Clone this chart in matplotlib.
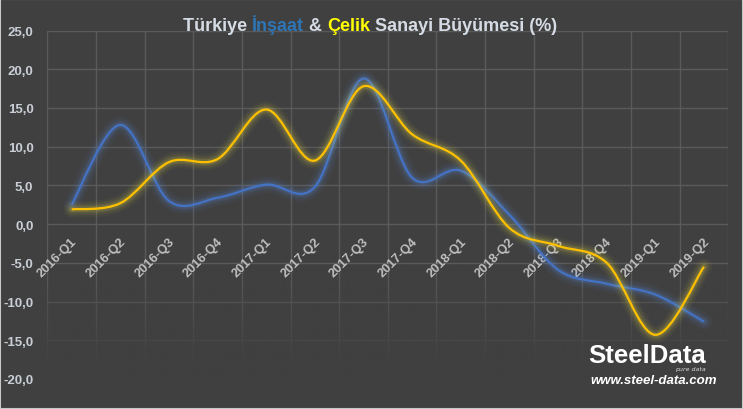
import numpy as np
import matplotlib.pyplot as plt
from matplotlib.path import Path
from matplotlib.patches import PathPatch, Rectangle
from matplotlib.transforms import IdentityTransform

# quarterly growth (%)
quarters = ["2016-Q1", "2016-Q2", "2016-Q3", "2016-Q4",
            "2017-Q1", "2017-Q2", "2017-Q3", "2017-Q4",
            "2018-Q1", "2018-Q2", "2018-Q3", "2018-Q4",
            "2019-Q1", "2019-Q2"]
insaat = [2.5, 12.8, 3.0, 3.4, 5.1, 4.8, 18.8, 6.0, 6.9, 1.2, -5.9, -7.7, -9.1, -12.6]
celik = [1.9, 2.7, 8.0, 8.4, 14.8, 8.2, 17.8, 11.6, 8.2, -0.5, -2.8, -5.0, -14.3, -5.5]
yticks = [25, 20, 15, 10, 5, 0, -5, -10, -15, -20]
ytick_labels = ["25,0", "20,0", "15,0", "10,0", "5,0", "0,0", "-5,0", "-10,0", "-15,0", "-20,0"]

BG = "#404040"
GRID = "#5a5a5a"
BLUE = "#4472c4"
GOLD = "#ffc000"
FONT = "Liberation Sans"


# Excel-style smoothed line: cubic bezier through every point
def smooth_path(vals):
    y = np.asarray(vals, float)
    x = np.arange(len(y), dtype=float)
    n = len(y)
    verts = [(x[0], y[0])]
    codes = [Path.MOVETO]
    for i in range(n - 1):
        a = max(i - 1, 0)
        b = min(i + 2, n - 1)
        c1 = (x[i] + (x[i + 1] - x[a]) / 6, y[i] + (y[i + 1] - y[a]) / 6)
        c2 = (x[i + 1] - (x[b] - x[i]) / 6, y[i + 1] - (y[b] - y[i]) / 6)
        verts += [c1, c2, (x[i + 1], y[i + 1])]
        codes += [Path.CURVE4] * 3
    return Path(verts, codes)


def glow_line(ax, vals, color, glow, z):
    p = smooth_path(vals)
    for lw, a in [(12, 0.04), (9, 0.06), (6, 0.09), (4, 0.12)]:
        ax.add_patch(PathPatch(p, fill=False, ec=glow, lw=lw, alpha=a,
                               capstyle="round", joinstyle="round", zorder=z))
    ax.add_patch(PathPatch(p, fill=False, ec=color, lw=1.6, zorder=z + 0.5))


fig = plt.figure(figsize=(7.43, 4.10), dpi=100, facecolor=BG)
ax = fig.add_axes([47.3 / 743, 1 - 380 / 410, 681 / 743, 348.5 / 410])
ax.set_facecolor(BG)
n = len(quarters)
for s in ax.spines.values():
    s.set_visible(False)

# grid
for v in yticks:
    ax.axhline(v, color=GRID, lw=1, zorder=1)
for i in range(n + 1):
    ax.axvline(i - 0.5, color=GRID, lw=1, zorder=1)
# grid fades out towards the bottom
grad = np.zeros((100, 1, 4))
grad[..., :3] = np.array([0x40, 0x40, 0x40]) / 255
grad[:, 0, 3] = np.clip(np.linspace(1.15, -0.1, 100), 0, 1)
ax.imshow(grad, extent=(-0.6, n - 0.4, -20.5, -4), aspect="auto",
          origin="lower", zorder=2, interpolation="bilinear")
ax.set_xlim(-0.5, n - 0.5)
ax.set_ylim(-20, 25)

ax.set_yticks(yticks)
ax.set_yticklabels(ytick_labels, fontsize=9.5, fontweight="bold",
                   color="#c9ced6", family=FONT)
ax.tick_params(axis="y", length=0, pad=10)
ax.set_xticks([])

for i, q in enumerate(quarters):
    ax.annotate(q, xy=(i, 0), xytext=(2.5, -11), textcoords="offset points",
                rotation=45, ha="right", va="center", rotation_mode="anchor",
                fontsize=9.3, fontweight="bold", color="#bfbfbf", family=FONT,
                zorder=3)

glow_line(ax, insaat, BLUE, "#5b8ee6", 4)
glow_line(ax, celik, GOLD, "#f2e040", 5)

# title in coloured pieces
fig.canvas.draw()
r = fig.canvas.get_renderer()
tkw = dict(fontsize=13, fontweight="bold", family=FONT, va="baseline",
           transform=IdentityTransform())


def width(s):
    t1 = fig.text(0, 0, "|" + s + "|", **tkw)
    t2 = fig.text(0, 0, "||", **tkw)
    w = t1.get_window_extent(r).width - t2.get_window_extent(r).width
    t1.remove()
    t2.remove()
    return w


pieces = [("Türkiye ", "#d6dce5"), ("İnşaat", "#2e75b6"), (" & ", "#d6dce5"),
          ("Çelik", "#ffff00"), (" Sanayi Büyümesi (%)", "#d6dce5")]
total = sum(width(s) for s, _ in pieces)
x0 = 370 - total / 2
for s, c in pieces:
    fig.text(x0, 410 - 31, s, color=c, **tkw)
    x0 += width(s)

# logo
fig.text(588, 410 - 363, "SteelData", fontsize=18.5, fontweight="bold",
         color="white", family=FONT, transform=IdentityTransform())
fig.text(706, 410 - 371, "pure data", fontsize=4.5, style="italic", ha="right",
         color="#d9d9d9", family="DejaVu Sans", transform=IdentityTransform())
fig.text(590, 410 - 384, "www.steel-data.com", fontsize=9.5, fontweight="bold",
         style="italic", color="white", family=FONT, transform=IdentityTransform())

fig.patches.append(Rectangle((0, 0), 1, 1, transform=fig.transFigure, fill=False,
                             ec="#c8c8c8", lw=1.5))

fig.savefig("out.png", dpi=100, facecolor=BG)
